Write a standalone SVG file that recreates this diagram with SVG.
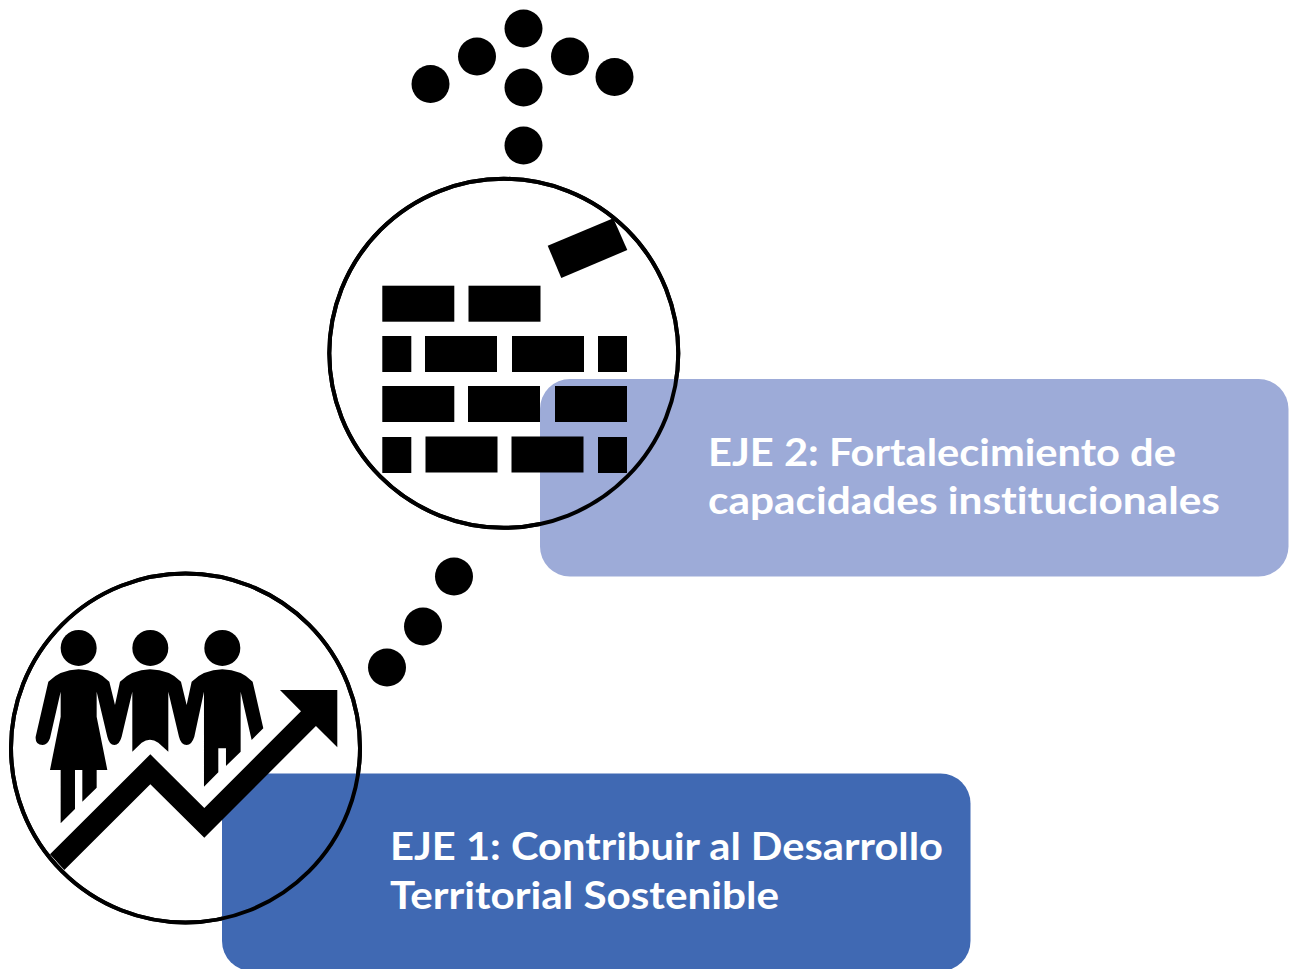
<svg xmlns="http://www.w3.org/2000/svg" width="1289" height="969" viewBox="0 0 1289 969">
<style>
.ring{fill:#fff;stroke:#000;stroke-width:4}
.ringtop{fill:none;stroke:#000;stroke-width:4}
.dot{fill:#000}
.lab{font-family:"Lato","Open Sans","Liberation Sans",sans-serif;font-weight:700;font-size:38px;fill:#fff;font-variant-ligatures:none}
</style>
<rect width="1289" height="969" fill="#fff"/>
<g id="connectors">
<circle class="dot" cx="523.5" cy="145.5" r="19"/>
<circle class="dot" cx="523.5" cy="87.5" r="19"/>
<circle class="dot" cx="430.5" cy="84" r="19"/>
<circle class="dot" cx="477" cy="56.5" r="19"/>
<circle class="dot" cx="523.5" cy="28.5" r="19"/>
<circle class="dot" cx="570" cy="56.5" r="19"/>
<circle class="dot" cx="614.5" cy="77" r="19"/>
<circle class="dot" cx="454" cy="576.5" r="19"/>
<circle class="dot" cx="423" cy="626.5" r="19"/>
<circle class="dot" cx="387" cy="667.5" r="19"/>
</g>
<g id="eje2">
<circle class="ring" cx="503.8" cy="353.3" r="174.5"/>
<rect x="540" y="379" width="748.5" height="197.5" rx="30" fill="#9dabd8"/>
<circle class="ringtop" cx="503.8" cy="353.3" r="174.5"/>
<g fill="#000">
<polygon points="547.7,245.7 613.3,218.3 627.3,250 561.3,278"/>
<rect x="382.3" y="285.7" width="72" height="36"/><rect x="468.5" y="285.7" width="72" height="36"/>
<rect x="382.3" y="336" width="29" height="36"/><rect x="425" y="336" width="72" height="36"/><rect x="512" y="336" width="72" height="36"/><rect x="598" y="336" width="29" height="36"/>
<rect x="382.3" y="386" width="72" height="36"/><rect x="468" y="386" width="72" height="36"/><rect x="555" y="386" width="72" height="36"/>
<rect x="382.3" y="437" width="29" height="36"/><rect x="425.5" y="436.5" width="72" height="36"/><rect x="511.5" y="436.5" width="72" height="36"/><rect x="598" y="437" width="29" height="36"/>
</g>
<text class="lab" x="708" y="466" textLength="468" lengthAdjust="spacingAndGlyphs">EJE 2: Fortalecimiento de</text>
<text class="lab" x="708" y="514" textLength="512" lengthAdjust="spacingAndGlyphs">capacidades institucionales</text>
</g>
<g id="eje1">
<circle class="ring" cx="185.5" cy="748" r="174.5"/>
<rect x="222" y="773.5" width="748.5" height="197.5" rx="30" fill="#4069b3"/>
<circle class="ringtop" cx="185.5" cy="748" r="174.5"/>
<g transform="translate(0,570) scale(0.3333)" fill="#000">
<circle cx="236" cy="234" r="54"/><circle cx="451" cy="234" r="54"/><circle cx="667" cy="234" r="54"/>
<path d="M145,335Q180,300 236,298Q295,300 328,335L345,405L360,335Q395,300 450,298Q510,300 543,335L560,405L575,335Q610,300 667,298Q725,300 758,335L790,475L755,510L722,365L722,545L678,588L678,535L655,535L655,607L612,650L612,365L583,500Q575,525 560,525Q543,525 537,500L505,365L505,545L475,518Q450,500 425,518L397,545L397,365L365,500Q358,525 343,525Q328,525 322,500L290,365L290,440L322,600L290,600L290,653L247,695L247,600L225,600L225,717L182,760L182,600L150,600L182,440L182,365L150,505Q143,525 128,525Q105,525 107,500Z"/>
<polygon points="150,853 451,553 613,714 903,424 840,360 1012,360 1012,532 948,468 613,803 451,643 193,900"/>
</g>
<text class="lab" x="390" y="860" textLength="553" lengthAdjust="spacingAndGlyphs">EJE 1: Contribuir al Desarrollo</text>
<text class="lab" x="390" y="909" textLength="389" lengthAdjust="spacingAndGlyphs">Territorial Sostenible</text>
</g>
</svg>
